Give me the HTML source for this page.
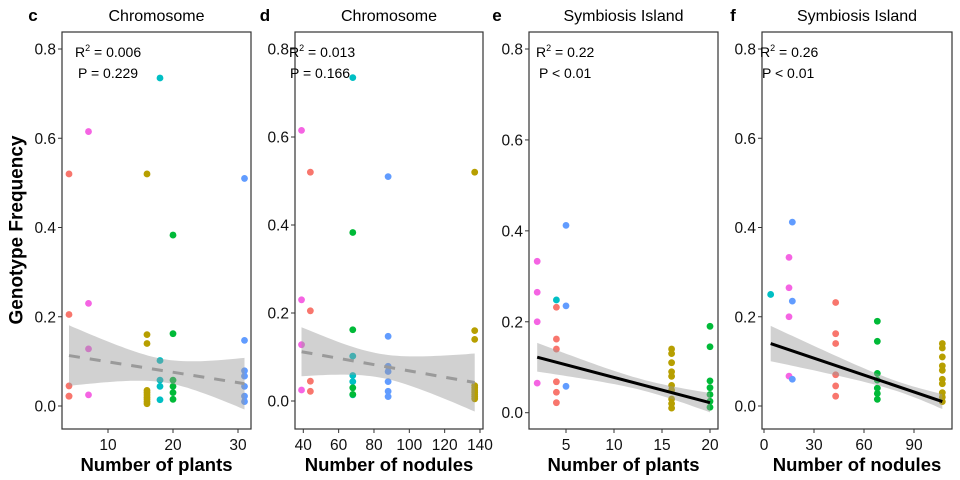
<!DOCTYPE html>
<html><head><meta charset="utf-8">
<style>
html,body{margin:0;padding:0;background:#fff;}
svg{display:block;font-family:"Liberation Sans",Arial,sans-serif;}
</style></head>
<body>
<svg id="chart" width="960" height="480" viewBox="0 0 960 480">
<text x="17" y="230" transform="rotate(-90 17 230)" text-anchor="middle" dominant-baseline="central" font-size="19" font-weight="bold">Genotype Frequency</text>
</svg>
<script>
// palette (ggplot hue): red, olive, green, teal, blue, pink
const palette = ["#F8766D","#B79F00","#00BA38","#00BFC4","#619CFF","#F564E3"];
const yTicks = [0, 0.2, 0.4, 0.6, 0.8];
const yTickLabels = ["0.0","0.2","0.4","0.6","0.8"];

// Panel c: chromosome vs number of plants
const cGroupX = [4, 7, 16, 18, 20, 31];
const cGroupColor = [0, 5, 1, 3, 2, 4];
const cGroupY = [
  [0.52,0.205,0.045,0.022,0.022],
  [0.615,0.23,0.128,0.025],
  [0.52,0.16,0.14,0.035,0.03,0.025,0.02,0.015,0.01,0.005],
  [0.735,0.102,0.058,0.044,0.014],
  [0.383,0.162,0.058,0.044,0.03,0.015],
  [0.51,0.147,0.079,0.067,0.044,0.022,0.01]
];
const cXTicks = [10, 20, 30];
const cFit = [4, 31, 0.113, 0.05];
const cBand = [0.065, 0.026, 0.06];

// Panel d: chromosome vs number of nodules
const dGroupX = [39, 44, 68, 68, 88, 137];
const dGroupColor = [5, 0, 3, 2, 4, 1];
const dGroupY = [
  [0.615,0.23,0.128,0.025],
  [0.52,0.205,0.045,0.022],
  [0.735,0.102,0.058,0.044,0.014],
  [0.383,0.162,0.03,0.015],
  [0.51,0.147,0.079,0.067,0.044,0.022,0.01],
  [0.52,0.16,0.14,0.035,0.03,0.025,0.02,0.015,0.01,0.005]
];
const dXTicks = [40, 60, 80, 100, 120, 140];
const dFit = [39, 137, 0.112, 0.042];
const dBand = [0.058, 0.027, 0.063];

// Panel e: symbiosis island vs number of plants
const eGroupX = [2, 4, 4, 5, 16, 20];
const eGroupColor = [5, 3, 0, 4, 1, 2];
const eGroupY = [
  [0.333,0.265,0.2,0.065],
  [0.248],
  [0.232,0.162,0.14,0.068,0.045,0.022],
  [0.412,0.235,0.058],
  [0.14,0.13,0.11,0.09,0.08,0.06,0.05,0.03,0.02,0.01],
  [0.19,0.145,0.07,0.055,0.04,0.025,0.012]
];
const eXTicks = [5, 10, 15, 20];
const eFit = [2, 20, 0.122, 0.022];
const eBand = [0.028, 0.012, 0.023];

// Panel f: symbiosis island vs number of nodules
const fGroupX = [4, 15, 17, 43, 68, 107];
const fGroupColor = [3, 5, 4, 0, 2, 1];
const fGroupY = [
  [0.25],
  [0.333,0.265,0.2,0.067],
  [0.412,0.235,0.06],
  [0.232,0.162,0.14,0.07,0.045,0.022],
  [0.19,0.145,0.073,0.058,0.04,0.028,0.015],
  [0.14,0.13,0.11,0.09,0.08,0.06,0.05,0.03,0.02,0.01]
];
const fXTicks = [0, 30, 60, 90];
const fFit = [4, 107, 0.14, 0.01];
const fBand = [0.029, 0.011, 0.019];

const panels = [
  {id:"c", title:"Chromosome", xt:"Number of plants", L:62,R:251, x0:10,px0:108,x1:30,px1:238, y0px:406,y08px:49,
   gx:cGroupX,gc:cGroupColor,gy:cGroupY,ticks:cXTicks,fit:cFit,band:cBand,dashed:true,
   r2:"0.006", p:"P = 0.229", ax:75, px:78, letterX:33},
  {id:"d", title:"Chromosome", xt:"Number of nodules", L:295,R:483, x0:40,px0:303.3,x1:140,px1:480, y0px:401,y08px:49,
   gx:dGroupX,gc:dGroupColor,gy:dGroupY,ticks:dXTicks,fit:dFit,band:dBand,dashed:true,
   r2:"0.013", p:"P = 0.166", ax:289, px:290, letterX:265},
  {id:"e", title:"Symbiosis Island", xt:"Number of plants", L:529,R:718, x0:5,px0:566,x1:20,px1:710, y0px:412.7,y08px:49,
   gx:eGroupX,gc:eGroupColor,gy:eGroupY,ticks:eXTicks,fit:eFit,band:eBand,dashed:false,
   r2:"0.22", p:"P < 0.01", ax:536, px:539, letterX:497},
  {id:"f", title:"Symbiosis Island", xt:"Number of nodules", L:762,R:952, x0:0,px0:764,x1:90,px1:914, y0px:406,y08px:49,
   gx:fGroupX,gc:fGroupColor,gy:fGroupY,ticks:fXTicks,fit:fFit,band:fBand,dashed:false,
   r2:"0.26", p:"P < 0.01", ax:760, px:762, letterX:733}
];

const NS = "http://www.w3.org/2000/svg";
const svg = document.getElementById("chart");
function mk(tag, attrs, parent){
  const e = document.createElementNS(NS, tag);
  for (const k in attrs) e.setAttribute(k, attrs[k]);
  (parent||svg).appendChild(e);
  return e;
}
const TOP = 32, BOT = 429;

panels.forEach(P => {
  const g = mk("g", {});
  
  
  const xs = v => P.px0 + (v - P.x0) * (P.px1 - P.px0) / (P.x1 - P.x0);
  const ys = v => P.y0px - v * (P.y0px - P.y08px) / 0.8;

  // letter + title
  const lt = mk("text", {x:P.letterX, y:21, "font-size":17, "font-weight":"bold", "text-anchor":"middle"}, g);
  lt.textContent = P.id;
  
  
  const tt = mk("text", {x:(P.L+P.R)/2, y:21, "font-size":16, "text-anchor":"middle"}, g);
  tt.textContent = P.title;
  
  

  // y ticks
  yTicks.forEach((v, i) => {
    const y = ys(v);
    mk("line", {x1:P.L-4, x2:P.L, y1:y, y2:y, stroke:"#333", "stroke-width":1}, g);
    const t = mk("text", {x:P.L-6, y:y+5.5, "font-size":15.5, "text-anchor":"end", fill:"#111"}, g);
    t.textContent = yTickLabels[i];
    
    
  });
  // x ticks
  P.ticks.forEach(v => {
    const x = xs(v);
    mk("line", {x1:x, x2:x, y1:BOT, y2:BOT+4, stroke:"#333", "stroke-width":1}, g);
    const t = mk("text", {x:x, y:BOT+21, "font-size":15.5, "text-anchor":"middle", fill:"#111"}, g);
    t.textContent = v;
    
    
  });
  const xt = mk("text", {x:(P.L+P.R)/2, y:471, "font-size":18.5, "font-weight":"bold", "text-anchor":"middle"}, g);
  xt.textContent = P.xt;
  
  

  // points
  P.gx.forEach((gxv, gi) => {
    P.gy[gi].forEach(v => {
      const c = mk("circle", {cx:xs(gxv), cy:ys(v), r:3.4, fill:palette[P.gc[gi]]}, g);
      
      
    });
  });

  // confidence band
  const [fx0, fx1, fy0, fy1] = P.fit;
  const [seL, seMid, seR] = P.band;
  const slope = (fy1 - fy0) / (fx1 - fx0);
  const xm = fx0 + (fx1 - fx0) * (seL*seL - seMid*seMid) / ((seL*seL - seMid*seMid) + (seR*seR - seMid*seMid)) ;
  const kL = (seL*seL - seMid*seMid) / Math.pow(fx0 - xm, 2);
  const kR = (seR*seR - seMid*seMid) / Math.pow(fx1 - xm, 2);
  const k = (kL + kR) / 2;
  const up = [], lo = [];
  for (let i = 0; i <= 40; i++) {
    const x = fx0 + (fx1 - fx0) * i / 40;
    const yv = fy0 + slope * (x - fx0);
    const se = Math.sqrt(seMid*seMid + k * (x - xm) * (x - xm));
    up.push(xs(x).toFixed(1) + "," + ys(yv + se).toFixed(1));
    lo.unshift(xs(x).toFixed(1) + "," + ys(yv - se).toFixed(1));
  }
  const band = mk("polygon", {points: up.concat(lo).join(" "), fill:"#999", "fill-opacity":0.45}, g);
  
  
  const ln = mk("line", {x1:xs(fx0), y1:ys(fy0), x2:xs(fx1), y2:ys(fy1),
    stroke: P.dashed ? "#9a9a9a" : "#000", "stroke-width": 3,
    "stroke-dasharray": P.dashed ? "11 10" : "none"}, g);
  
  

  // frame
  mk("rect", {x:P.L, y:TOP, width:P.R-P.L, height:BOT-TOP, fill:"none", stroke:"#333", "stroke-width":1.2}, g);

  // annotations
  const a = mk("text", {x:P.ax, y:57, "font-size":14}, g);
  a.innerHTML = 'R<tspan font-size="9" dy="-6">2</tspan><tspan dy="6"> = ' + P.r2 + '</tspan>';
  
  
  const p = mk("text", {x:P.px, y:78, "font-size":14}, g);
  p.textContent = P.p;
  
  
});
</script>
</body></html>
